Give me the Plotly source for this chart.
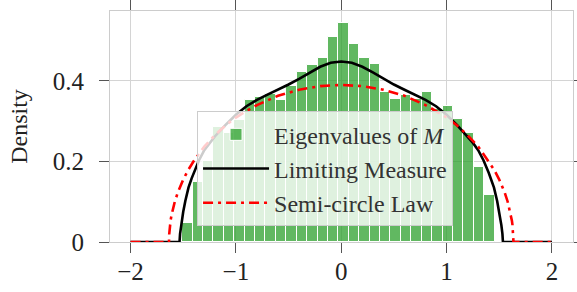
import numpy as np
import plotly.graph_objects as go

# ---- data ----
hist_density = [0.048, 0.150, 0.200, 0.285, 0.270, 0.303, 0.352, 0.360, 0.368, 0.353,
                0.388, 0.423, 0.440, 0.458, 0.508, 0.543, 0.492, 0.458, 0.441, 0.372,
                0.355, 0.366, 0.355, 0.372, 0.330, 0.338, 0.305, 0.271, 0.185, 0.117]
bin_start = -1.510
bin_end = 1.456

limiting_x = [-2.0, -1.535, -1.53, -1.52, -1.51, -1.5, -1.48, -1.45, -1.42, -1.4, -1.35,
              -1.3, -1.25, -1.2, -1.1, -1.0, -0.9, -0.8, -0.7, -0.6, -0.5, -0.4, -0.3,
              -0.2, -0.1, 0.0, 0.1, 0.2, 0.3, 0.4, 0.5, 0.6, 0.7, 0.8, 0.9, 1.0, 1.1,
              1.2, 1.25, 1.3, 1.35, 1.4, 1.42, 1.45, 1.48, 1.5, 1.51, 1.52, 1.53, 1.535, 2.0]
limiting_y = [0.0, 0.0, 0.020, 0.042, 0.060, 0.075, 0.102, 0.135, 0.158, 0.172, 0.203,
              0.228, 0.246, 0.262, 0.290, 0.316, 0.337, 0.353, 0.366, 0.378, 0.391, 0.405, 0.421,
              0.435, 0.445, 0.448, 0.445, 0.435, 0.421, 0.405, 0.391, 0.378, 0.366, 0.353, 0.337, 0.316, 0.290,
              0.262, 0.246, 0.228, 0.203, 0.172, 0.158, 0.135, 0.102, 0.075, 0.060, 0.042, 0.020, 0.0, 0.0]

semicircle_x = [-2.0, -1.635, -1.633, -1.63, -1.625, -1.62, -1.61, -1.6, -1.58, -1.55, -1.5,
                -1.45, -1.4, -1.3, -1.2, -1.1, -1.0, -0.9, -0.8, -0.6, -0.4, -0.2, 0.0,
                0.2, 0.4, 0.6, 0.8, 0.9, 1.0, 1.1, 1.2, 1.3, 1.4, 1.45, 1.5, 1.55, 1.58,
                1.6, 1.61, 1.62, 1.625, 1.63, 1.633, 1.635, 2.0]
semicircle_y = [0.0, 0.0, 0.019, 0.030, 0.043, 0.053, 0.068, 0.080, 0.100, 0.124, 0.155,
                0.180, 0.201, 0.237, 0.265, 0.289, 0.309, 0.325, 0.340, 0.363, 0.378, 0.387, 0.390,
                0.387, 0.378, 0.363, 0.340, 0.325, 0.309, 0.289, 0.265, 0.237, 0.201, 0.180, 0.155, 0.124, 0.100,
                0.080, 0.068, 0.053, 0.043, 0.030, 0.019, 0.0, 0.0]

x_ticks = [-2, -1, 0, 1, 2]
y_ticks = [0, 0.2, 0.4]
y_ticktext = ["0", "0.2", "0.4"]

# ---- figure ----
n_bins = len(hist_density)
bin_w = (bin_end - bin_start) / n_bins
centers = [bin_start + (i + 0.5) * bin_w for i in range(n_bins)]

FONT = "Liberation Serif"
fig = go.Figure()
fig.add_trace(go.Bar(
    x=centers, y=hist_density, width=bin_w,
    marker=dict(color="rgba(44,160,44,0.75)", line=dict(color="white", width=1)),
    name="Eigenvalues of <i>M</i>",
))
fig.add_trace(go.Scatter(
    x=limiting_x, y=limiting_y, mode="lines",
    line=dict(color="black", width=2.6),
    name="Limiting Measure",
))
fig.add_trace(go.Scatter(
    x=semicircle_x, y=semicircle_y, mode="lines",
    line=dict(color="red", width=2.6, dash="10px,5px,3px,5px"),
    name="Semi-circle Law",
))

axis_common = dict(
    showgrid=True, gridcolor="#d4d4d4", gridwidth=1,
    showline=True, linecolor="#cccccc", linewidth=1, mirror="allticks",
    ticks="outside", ticklen=10, tickwidth=1.2, tickcolor="#555555",
    tickfont=dict(family=FONT, size=25, color="#222222"),
    zeroline=False, automargin=False,
)
fig.update_xaxes(range=[-2.195, 2.2], tickvals=x_ticks, ticklabelstandoff=-3, **axis_common)
fig.update_yaxes(range=[0, 0.5735], tickvals=y_ticks, ticktext=y_ticktext, ticklabelstandoff=10,
                 title=dict(text="Density", font=dict(family=FONT, size=24, color="#222222"), standoff=18),
                 **axis_common)

fig.update_layout(
    width=577, height=292,
    margin=dict(l=110, r=4, t=11, b=50, pad=0, autoexpand=False),
    plot_bgcolor="white", paper_bgcolor="white",
    showlegend=True,
    legend=dict(
        x=0.188, y=0.566, xanchor="left", yanchor="top",
        bgcolor="rgba(255,255,255,0.8)", bordercolor="#cccccc", borderwidth=1,
        font=dict(family=FONT, size=24, color="#333333"),
        itemwidth=66,
    ),
    bargap=0,
)
fig.write_html("out.html", config={"displayModeBar": False},
               post_script="document.body.style.margin='0px';")
